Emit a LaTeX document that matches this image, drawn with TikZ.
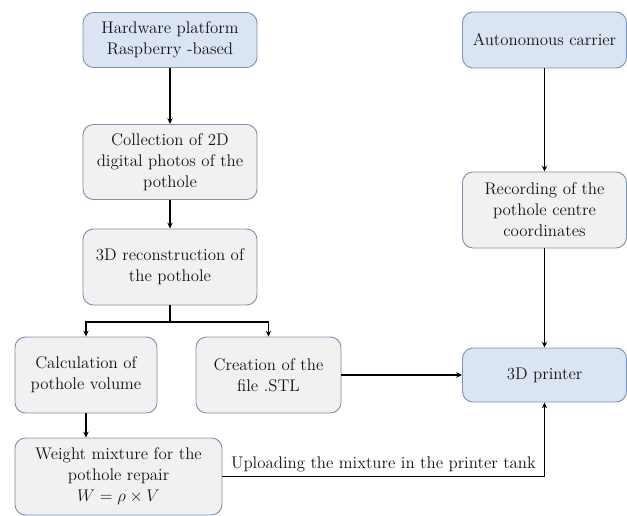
\documentclass[tikz,border=0pt]{standalone}
\usepackage{amsmath}
\usepackage{xcolor}
\usetikzlibrary{arrows.meta,positioning,calc}
\definecolor{cBlueFill}{HTML}{DAE4F3}
\definecolor{cGrayFill}{HTML}{F1F1F1}
\definecolor{cEdge}{HTML}{7F93AE}
\definecolor{cInk}{HTML}{141414}
\tikzset{
  pbox/.style={draw=cEdge,fill=#1,rounded corners=9pt,line width=0.8pt,align=center,font=\Large,inner sep=3pt,text=cInk},
  pbox/.default=cGrayFill,
  arr/.style={-{Stealth[length=5pt,width=4.5pt]},line width=1.4pt,color=black},
  lnk/.style={line width=1.4pt,color=black},
  lbl/.style={font=\Large,text=cInk,inner sep=3pt},
}

\begin{document}
\begin{tikzpicture}[x=0.03cm,y=-0.03cm]
  \useasboundingbox (0,0) rectangle (627,516);
  % left column
  \node[pbox=cBlueFill,minimum width=5.22cm,minimum height=1.65cm] (hw) at (170,40) {Hardware platform\\Raspberry -based};
  \node[pbox,minimum width=5.22cm,minimum height=2.25cm] (photos) at (170,162) {Collection of 2D\\digital photos of the\\pothole};
  \node[pbox,minimum width=5.22cm,minimum height=2.28cm] (recon) at (170,267) {3D reconstruction of\\the pothole};
  \node[pbox,minimum width=4.26cm,minimum height=2.28cm] (volume) at (86,375) {Calculation of\\pothole volume};
  \node[pbox,minimum width=4.35cm,minimum height=2.28cm] (stl) at (268.5,375) {Creation of the\\file .STL};
  \node[pbox,minimum width=6.21cm,minimum height=2.31cm] (weight) at (118.5,476.5) {Weight mixture for the\\pothole repair\\$W = \rho \times V$};
  % right column
  \node[pbox=cBlueFill,minimum width=4.92cm,minimum height=1.68cm] (carrier) at (544.5,40) {Autonomous carrier};
  \node[pbox,minimum width=4.92cm,minimum height=2.28cm] (coords) at (544.5,210) {Recording of the\\pothole centre\\coordinates};
  \node[pbox=cBlueFill,minimum width=4.92cm,minimum height=1.62cm] (printer) at (544.5,375) {3D printer};
  \coordinate (split) at (170,322);
  % connectors
  \draw[arr] (hw) -- (photos);
  \draw[arr] (photos) -- (recon);
  \draw[lnk] (recon.south) -- (split);
  \draw[arr] (split) -| (volume.north);
  \draw[arr] (split) -| (stl.north);
  \draw[arr] (volume) -- (weight.north -| volume.south);
  \draw[arr] (stl) -- (printer);
  \draw[arr] (carrier) -- (coords);
  \draw[arr] (coords) -- (printer);
  \draw[arr] (weight.east) -| node[lbl,pos=0.25,above]{Uploading the mixture in the printer tank} (printer.south);
\end{tikzpicture}
\end{document}
